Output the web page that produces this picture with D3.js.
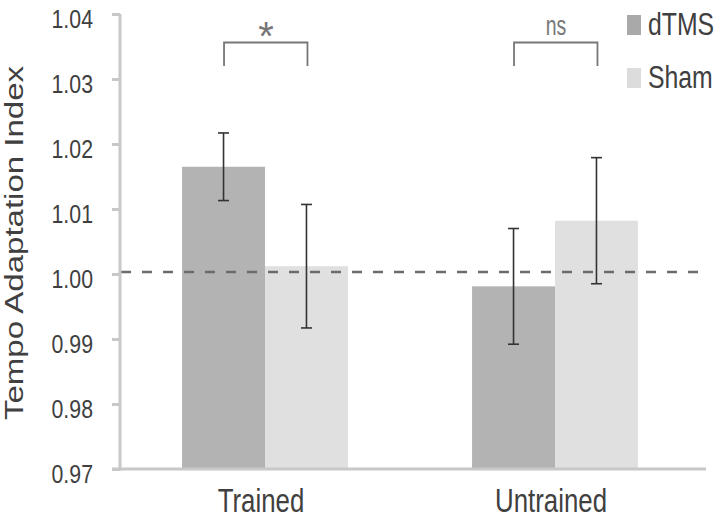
<!DOCTYPE html>
<html>
<head>
<meta charset="utf-8">
<script src="https://cdn.jsdelivr.net/npm/d3@7"></script>
<style>
  html, body { margin: 0; padding: 0; background: #fff; }
  svg { display: block; }
  text { font-family: "Liberation Sans", Arial, sans-serif; fill: #404040; }
</style>
</head>
<body>
<svg id="chart" width="720" height="518"></svg>
<script>
const categories = ["Trained", "Untrained"];
const seriesNames = ["dTMS", "Sham"];
const dtmsMeans = [1.0165, 0.9981];
const dtmsErr = [0.0052, 0.0089];
const shamMeans = [1.0012, 1.0082];
const shamErr = [0.0095, 0.0097];
const yTicks = [0.97, 0.98, 0.99, 1.00, 1.01, 1.02, 1.03, 1.04];
const sigLabels = ["*", "ns"];
const baseline = 1.00;
const colors = ["#b3b3b3", "#e0e0e0"];
const legendColors = ["#a9a9a9", "#dcdcdc"];

const svg = d3.select("#chart");

const y = d3.scaleLinear().domain([0.97, 1.04]).range([469, 14]);
const x0 = d3.scaleBand().domain(categories).range([120, 700])
  .paddingInner(0.428).paddingOuter(0.214);
const x1 = d3.scaleBand().domain(seriesNames).range([0, x0.bandwidth()]);

const data = categories.map((c, i) => ({
  cat: c,
  vals: [
    { s: "dTMS", v: dtmsMeans[i], e: dtmsErr[i] },
    { s: "Sham", v: shamMeans[i], e: shamErr[i] }
  ]
}));

// bars
const groups = svg.append("g").selectAll("g").data(data).join("g")
  .attr("transform", d => `translate(${x0(d.cat)},0)`);
groups.selectAll("rect").data(d => d.vals).join("rect")
  .attr("x", d => x1(d.s))
  .attr("width", x1.bandwidth())
  .attr("y", d => y(d.v))
  .attr("height", d => y(0.97) - y(d.v))
  .attr("fill", (d, i) => colors[i]);

// dashed reference line
svg.append("line")
  .attr("x1", 121).attr("x2", 706)
  .attr("y1", y(baseline) - 2).attr("y2", y(baseline) - 2)
  .attr("stroke", "#6b6b6b").attr("stroke-width", 2.5)
  .attr("stroke-dasharray", "10,11");

// error bars
const eb = groups.selectAll("g.err").data(d => d.vals).join("g").attr("class", "err");
const cx = d => x1(d.s) + x1.bandwidth() / 2;
eb.append("line").attr("x1", cx).attr("x2", cx)
  .attr("y1", d => y(d.v + d.e)).attr("y2", d => y(d.v - d.e))
  .attr("stroke", "#333").attr("stroke-width", 1.6);
eb.append("line").attr("x1", d => cx(d) - 5.5).attr("x2", d => cx(d) + 5.5)
  .attr("y1", d => y(d.v + d.e)).attr("y2", d => y(d.v + d.e))
  .attr("stroke", "#333").attr("stroke-width", 1.6);
eb.append("line").attr("x1", d => cx(d) - 5.5).attr("x2", d => cx(d) + 5.5)
  .attr("y1", d => y(d.v - d.e)).attr("y2", d => y(d.v - d.e))
  .attr("stroke", "#333").attr("stroke-width", 1.6);

// y axis
const tickScale = 0.82;
const yAxis = svg.append("g").attr("transform", "translate(120,0)")
  .call(d3.axisLeft(y).tickValues(yTicks).tickFormat(d3.format(".2f")).tickSize(8).tickPadding(0));
yAxis.select(".domain").remove();
yAxis.selectAll(".tick line").attr("stroke", "#c8c8c8").attr("stroke-width", 3);
yAxis.selectAll(".tick text")
  .attr("x", -27 / tickScale).attr("dy", null).attr("y", 13)
  .attr("transform", `scale(${tickScale},1)`)
  .style("font-size", "26px").style("font-family", "Liberation Sans, Arial, sans-serif")
  .attr("fill", "#404040");
svg.append("line").attr("x1", 120).attr("x2", 120).attr("y1", y(1.04)).attr("y2", y(0.97) + 1.5)
  .attr("stroke", "#c8c8c8").attr("stroke-width", 3);

// x axis line
svg.append("line").attr("x1", 112).attr("x2", 706).attr("y1", y(0.97)).attr("y2", y(0.97))
  .attr("stroke", "#c8c8c8").attr("stroke-width", 3);

// x labels
svg.append("g").selectAll("text").data(categories).join("text")
  .attr("transform", d => `translate(${x0(d) + x0.bandwidth() / 2 - 4},512) scale(0.76,1)`)
  .attr("text-anchor", "middle")
  .style("font-size", "34px")
  .text(d => d);

// y title
svg.append("text")
  .attr("transform", "translate(23,243) rotate(-90) scale(1.27,1)")
  .attr("text-anchor", "middle")
  .style("font-size", "26px")
  .text("Tempo Adaptation Index");

// significance brackets
const br = svg.append("g").selectAll("g").data(categories).join("g");
br.append("path")
  .attr("d", d => {
    const a = x0(d) + x1("dTMS") + x1.bandwidth() / 2 + 0.5;
    const b = x0(d) + x1("Sham") + x1.bandwidth() / 2 + 1;
    return `M${a},66 V42.5 H${b} V66`;
  })
  .attr("fill", "none").attr("stroke", "#777").attr("stroke-width", 1.8);
br.append("text")
  .attr("transform", (d, i) => i === 0
    ? `translate(${x0(d) + x0.bandwidth() / 2 + 1},50)`
    : `translate(${x0(d) + x0.bandwidth() / 2 + 1},35) scale(0.72,1)`)
  .attr("text-anchor", "middle")
  .style("font-size", (d, i) => i === 0 ? "40px" : "27px")
  .attr("fill", "#777").style("fill", "#777")
  .text((d, i) => sigLabels[i]);

// legend
const lg = svg.append("g").selectAll("g").data(seriesNames).join("g")
  .attr("transform", (d, i) => `translate(627,${15 + i * 53})`);
lg.append("rect").attr("width", 14).attr("height", 20).attr("fill", (d, i) => legendColors[i]);
lg.append("text")
  .attr("transform", "translate(21,20) scale(0.8,1)")
  .style("font-size", "31px")
  .text(d => d);
</script>
</body>
</html>
